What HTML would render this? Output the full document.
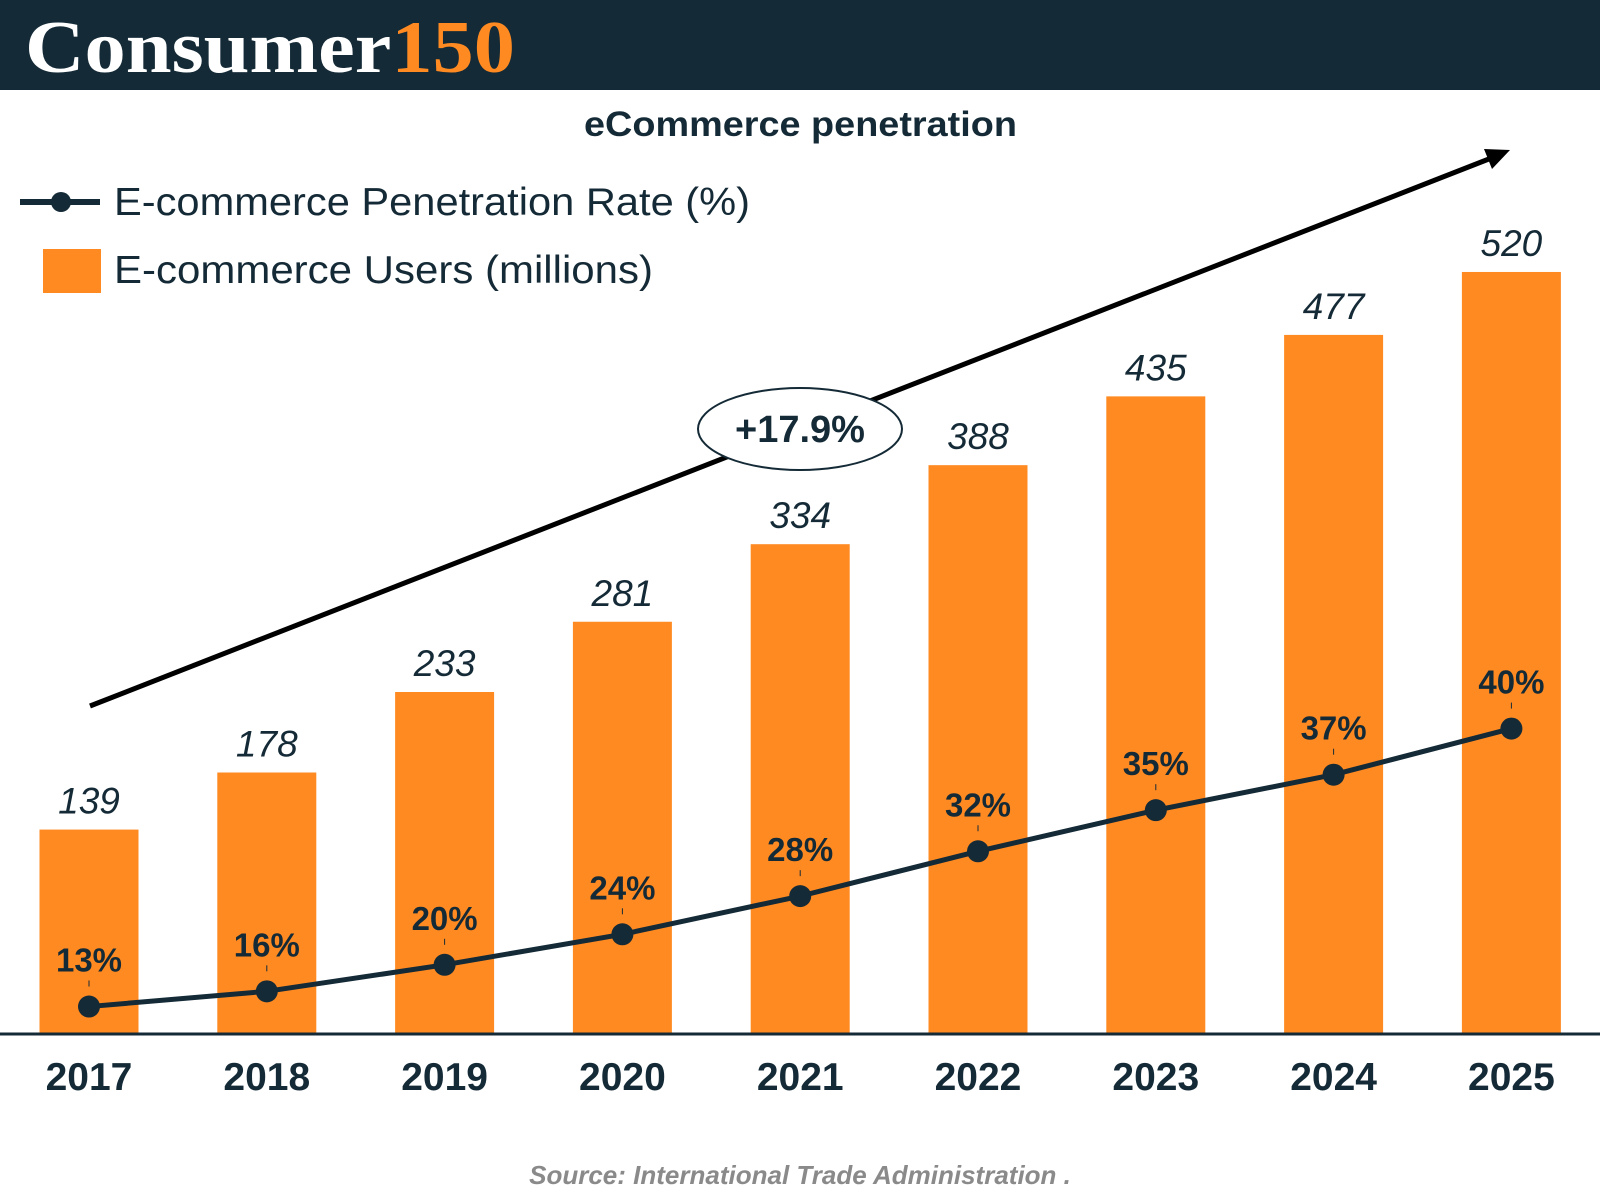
<!DOCTYPE html>
<html><head><meta charset="utf-8"><style>
html,body{margin:0;padding:0;background:#fff}
svg{display:block}
text{font-family:"Liberation Sans","DejaVu Sans",sans-serif}
</style></head><body>
<svg id="chart" width="1600" height="1200" viewBox="0 0 1600 1200" xmlns="http://www.w3.org/2000/svg">
<rect x="0" y="0" width="1600" height="90" fill="#142A36"/>
<text x="25" y="72" font-weight="bold" font-size="74" textLength="490" lengthAdjust="spacingAndGlyphs" fill="#fff" style="font-family:'Liberation Serif',serif">Consumer<tspan fill="#FF8A22">150</tspan></text>
<text x="584" y="136" font-weight="bold" font-size="35" textLength="433" lengthAdjust="spacingAndGlyphs" fill="#142A36">eCommerce penetration</text>
<g>
<line x1="20" y1="202" x2="100" y2="202" stroke="#142A36" stroke-width="6"/>
<circle cx="61" cy="202" r="10" fill="#142A36"/>
<text x="114" y="215" font-size="39" textLength="636" lengthAdjust="spacingAndGlyphs" fill="#142A36">E-commerce Penetration Rate (%)</text>
<rect x="43" y="249" width="58" height="44" fill="#FF8A22"/>
<text x="114" y="283" font-size="39" textLength="539" lengthAdjust="spacingAndGlyphs" fill="#142A36">E-commerce Users (millions)</text>
</g>
<g id="bars"></g>
<line x1="0" y1="1034" x2="1600" y2="1034" stroke="#142A36" stroke-width="3"/>
<g id="line"></g>
<g>
<line x1="90" y1="706" x2="1494" y2="157" stroke="#000" stroke-width="5"/>
<polygon points="1510,150 1484,149 1492,169" fill="#000"/>
</g>
<g>
<ellipse cx="800" cy="429" rx="102" ry="41" fill="#fff" stroke="#142A36" stroke-width="2"/>
<text x="800" y="442" text-anchor="middle" font-weight="bold" font-size="38" fill="#142A36">+17.9%</text>
</g>
<text x="800" y="1184" text-anchor="middle" font-style="italic" font-weight="bold" font-size="26" fill="#8a8a8a">Source: International Trade Administration .</text>
</svg>
<script>
const years = ["2017","2018","2019","2020","2021","2022","2023","2024","2025"];
const users = [139,178,233,281,334,388,435,477,520];
const rates = [13,16,20,24,28,32,35,37,40];

const NS="http://www.w3.org/2000/svg";
const baseY=1033, pxPerUnit=1.4635, x0=89, step=177.8, barW=99;
function xPos(i){return x0+i*step;}
function yPos(v){return baseY-v*pxPerUnit;}
function mk(tag,attrs,parent){const e=document.createElementNS(NS,tag);for(const k in attrs)e.setAttribute(k,attrs[k]);parent.appendChild(e);return e;}
const bars=document.getElementById('bars'), lg=document.getElementById('line');
years.forEach((y,i)=>{
  const cx=xPos(i), top=yPos(users[i]);
  const r=mk('rect',{x:cx-barW/2,y:top,width:barW,height:baseY-top,fill:'#FF8A22'},bars);
  
  
  const t=mk('text',{x:cx,y:top-16,'text-anchor':'middle','font-size':'37','font-style':'italic',fill:'#142A36'},bars);
  t.textContent=users[i];
  
  
  const yl=mk('text',{x:cx,y:1090,'text-anchor':'middle','font-size':'39','font-weight':'bold',fill:'#142A36'},bars);
  yl.textContent=y;
  
  
});
const pts=rates.map((p,i)=>[xPos(i),yPos(users[i]*p/100)]);
const pl=mk('polyline',{points:pts.map(p=>p.join(',')).join(' '),fill:'none',stroke:'#142A36','stroke-width':'5','stroke-linejoin':'round'},lg);


pts.forEach((p,i)=>{
  const c=mk('circle',{cx:p[0],cy:p[1],r:11,fill:'#142A36'},lg);
  
  
  mk('line',{x1:p[0],y1:p[1]-26,x2:p[0],y2:p[1]-20,stroke:'#142A36','stroke-width':'1'},lg);
  const t=mk('text',{x:p[0],y:p[1]-35,'text-anchor':'middle','font-size':'33','font-weight':'bold',fill:'#142A36'},lg);
  t.textContent=rates[i]+'%';
  
  
});
</script>
</body></html>
